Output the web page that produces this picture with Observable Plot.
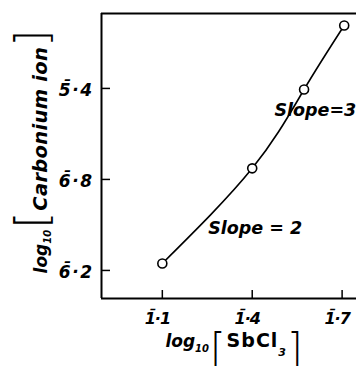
<!DOCTYPE html>
<html><head><meta charset="utf-8">
<script src="https://cdn.jsdelivr.net/npm/d3@7"></script>
<script src="https://cdn.jsdelivr.net/npm/@observablehq/plot@0.6"></script>
<style>body{margin:0;background:#fff} svg{display:block}</style>
</head><body><div id="chart"></div>
<script>
const logSbCl3 = [-0.9, -0.6, -0.427, -0.293];
const logCarbonium = [-5.754, -5.127, -4.607, -4.185];
const xTickValues = [-0.9, -0.6, -0.3];
const xTickLabels = ["1\u0305·1", "1\u0305·4", "1\u0305·7"];
const yTickValues = [-5.8, -5.2, -4.6];
const yTickLabels = ["6\u0305·2", "6\u0305·8", "5\u0305·4"];
const slopeLabels = ["Slope = 2", "Slope=3"];
const slopeX = [-0.747, -0.526];
const slopeY = [-5.523, -4.745];
const xTitle = "log10[SbCl3]";
const yTitle = "log10[Carbonium ion]";
const xDomain = [-1.103, -0.252];
const yDomain = [-5.985, -4.106];

const points = logSbCl3.map((x, i) => ({x, y: logCarbonium[i]}));
const slopes = slopeLabels.map((t, i) => ({t, x: slopeX[i], y: slopeY[i]}));
const W = 356, H = 366, ML = 101, MT = 13, MB = 68, MR = 0;
const font = {fontFamily: "DejaVu Sans", fontWeight: "bold", fontStyle: "italic", fill: "black"};

const chart = Plot.plot({
  width: W, height: H,
  marginLeft: ML, marginTop: MT, marginBottom: MB, marginRight: MR,
  x: {domain: xDomain, axis: null},
  y: {domain: yDomain, axis: null},
  marks: [
    Plot.ruleY(yDomain, {strokeWidth: 2}),
    Plot.ruleX([xDomain[0]], {strokeWidth: 2}),
    Plot.ruleY(yTickValues, {insetRight: (W - ML - MR) - 9, strokeWidth: 1.5}),
    Plot.ruleX(xTickValues, {insetTop: (H - MT - MB) - 8, strokeWidth: 1.5}),
    Plot.line(points, {x: "x", y: "y", curve: "natural", strokeWidth: 1.6}),
    Plot.dot(points, {x: "x", y: "y", r: 4.5, fill: "white", stroke: "black", strokeWidth: 1.6}),
    Plot.text(slopes, {x: "x", y: "y", text: "t", textAnchor: "start", fontSize: 17.5, ...font}),
    Plot.text(xTickValues, {x: d => d, frameAnchor: "bottom", lineAnchor: "middle", textAnchor: "middle", dy: 20, dx: -5, text: (d, i) => xTickLabels[i], fontSize: 16, ...font}),
    Plot.text(yTickValues, {y: d => d, frameAnchor: "left", lineAnchor: "middle", textAnchor: "end", dx: -8, dy: 2, text: (d, i) => yTickLabels[i], fontSize: 17, ...font}),
    Plot.text([yTitle], {frameAnchor: "left", textAnchor: "middle", lineAnchor: "middle", rotate: -90, dx: -60, dy: -4.5, fontSize: 17, ...font}),
    Plot.text([xTitle], {frameAnchor: "bottom", textAnchor: "middle", lineAnchor: "middle", dy: 43.5, dx: 5, fontSize: 17, ...font})
  ]
});
document.getElementById("chart").appendChild(chart);

function rebuild(el, parts) {
  const t = d3.select(el);
  t.text(null);
  for (const p of parts) {
    const ts = t.append("tspan").text(p.s);
    for (const [k, v] of Object.entries(p)) if (k !== "s") ts.attr(k, v);
  }
}
const texts = d3.select(chart).selectAll("text");
const br = {"font-weight": 200, "font-style": "normal"};
texts.filter(function() { return this.textContent === yTitle; }).each(function() {
  rebuild(this, [
    {s: "log"},
    {s: "10", "font-size": 10, dy: 4},
    {s: "[", "font-size": 44, dy: -4, dx: 1, ...br},
    {s: "Carbonium ion", dx: 1, "font-size": 19.5, "letter-spacing": 0.3},
    {s: "]", "font-size": 44, ...br}
  ]);
});
texts.filter(function() { return this.textContent === xTitle; }).each(function() {
  rebuild(this, [
    {s: "log"},
    {s: "10", "font-size": 10, dy: 5},
    {s: "[", "font-size": 40, dy: 10, dx: 1, ...br},
    {s: "SbCl", dy: -15, dx: 1, "font-size": 19, "font-style": "normal", "letter-spacing": 1},
    {s: "3", "font-size": 11, dy: 9},
    {s: "]", "font-size": 40, dy: 6, dx: 1, ...br}
  ]);
});
function overbar(labels, fs, L) {
  texts.filter(function() { return labels.includes(this.textContent); }).each(function() {
    const chars = Array.from(this.textContent);
    const digit = chars[0], rest = chars.slice(2).join("");
    const dAdv = 0.696 * fs + L, mW = 0.5 * fs;
    const dxM = -dAdv + (0.696 * fs - mW) / 2 + 1.5;
    const dxR = -(dxM + mW + L);
    d3.select(this).attr("letter-spacing", L);
    rebuild(this, [
      {s: digit},
      {s: "\u00AF", dx: dxM.toFixed(2), dy: -2.5},
      {s: rest, dx: dxR.toFixed(2), dy: 2.5}
    ]);
  });
}
overbar(xTickLabels, 16, -1);
overbar(yTickLabels, 17, 1.5);
</script></body></html>
